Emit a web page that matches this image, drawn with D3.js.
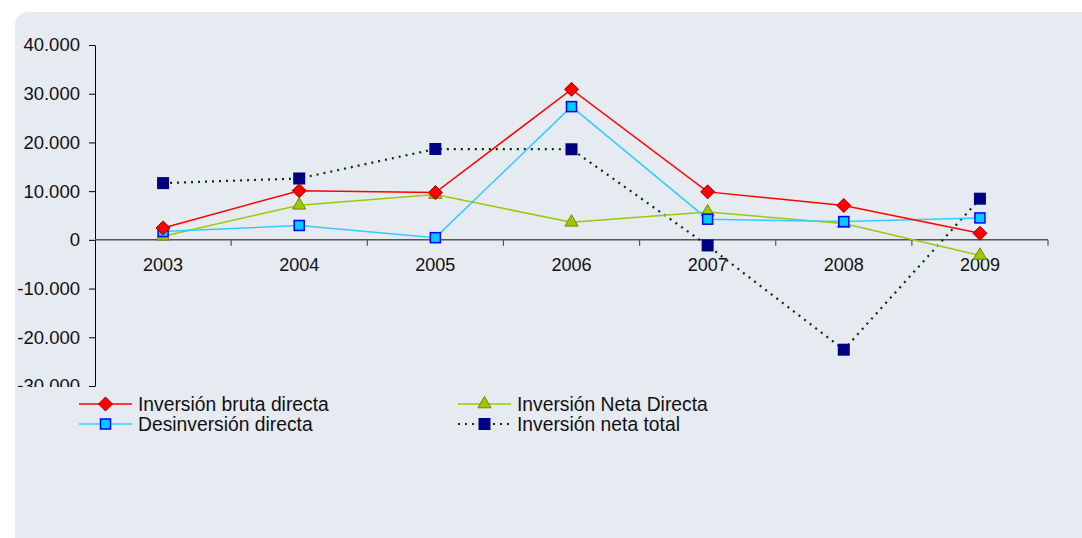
<!DOCTYPE html>
<html><head><meta charset="utf-8">
<script src="https://cdn.jsdelivr.net/npm/d3@7"></script>
<style>body{margin:0;background:#fff}svg{display:block}text{font-family:"Liberation Sans",Arial,sans-serif;fill:#111}</style>
</head><body><svg id="c" width="1082" height="538"></svg>
<script>
const years = ["2003","2004","2005","2006","2007","2008","2009"];
const brutaDirecta = [2450, 10100, 9700, 30900, 9850, 7050, 1350];
const desinversion = [1700, 2950, 450, 27350, 4250, 3750, 4500];
const netaDirecta = [750, 7100, 9300, 3600, 5700, 3350, -3200];
const netaTotal = [11650, 12600, 18650, 18600, -1150, -22550, 8450];
const yTicks = [40000, 30000, 20000, 10000, 0, -10000, -20000, -30000];
const seriesNames = ["Inversión bruta directa","Desinversión directa","Inversión Neta Directa","Inversión neta total"];

const svg = d3.select("#c");
const bg = "#E6EAF1";
svg.append("path").attr("d","M15,538 L15,26 Q15,12 29,12 L1082,12 L1082,538 Z").attr("fill",bg);

const x = d3.scaleBand().domain(years).range([95,1048]);
const y = d3.scaleLinear().domain([-30000,40000]).range([386,45]);
const fmt = v => (v<0?"-":"") + d3.format(",")(Math.abs(v)).replace(/,/g,".");

const gy = svg.append("g").attr("transform","translate(95,0)")
  .call(d3.axisLeft(y).tickValues(yTicks).tickSize(6).tickSizeOuter(0).tickFormat(fmt).tickPadding(9));
gy.select(".domain").attr("stroke","#000");
gy.selectAll(".tick line").attr("stroke","#000");
gy.selectAll(".tick text").attr("font-size","18.5px").style("font-family","'Liberation Sans',Arial,sans-serif").attr("fill","#111");

const gx = svg.append("g").attr("transform",`translate(0,${y(0)})`)
  .call(d3.axisBottom(x).tickSize(0).tickPadding(0));
gx.select(".domain").remove();
gx.selectAll(".tick text").attr("font-size","18px").attr("dy","31").style("font-family","'Liberation Sans',Arial,sans-serif").attr("fill","#111");
svg.append("line").attr("x1",95).attr("x2",1048).attr("y1",y(0)).attr("y2",y(0)).attr("stroke","#555").attr("stroke-width",1.5);
const bounds = years.map(d=>x(d)).concat([1048]).slice(1);
svg.selectAll(".xt").data(bounds).join("line").attr("x1",d=>d).attr("x2",d=>d)
  .attr("y1",y(0)).attr("y2",y(0)+6).attr("stroke","#555").attr("stroke-width",1.2);

const cx = d => x(d) + x.bandwidth()/2;
const line = d3.line().x((d,i)=>cx(years[i])).y(d=>y(d));

const triangle = d3.symbol().type(d3.symbolTriangle).size(75);

function drawSeries(vals, stroke, dash, marker){
  svg.append("path").attr("d",line(vals)).attr("fill","none").attr("stroke",stroke)
    .attr("stroke-width",dash?2.2:1.5).attr("stroke-dasharray",dash||null);
  const g = svg.append("g");
  vals.forEach((v,i)=>marker(g, cx(years[i]), y(v)));
}
const mDiamond=(g,px,py)=>g.append("path").attr("d","M0,-7L7,0L0,7L-7,0Z").attr("transform",`translate(${px},${py})`).attr("fill","#FF0000").attr("stroke","#990000").attr("stroke-width",1);
const mCyan=(g,px,py)=>g.append("rect").attr("x",px-5).attr("y",py-5).attr("width",10).attr("height",10).attr("fill","#00CCFF").attr("stroke","#0000FF").attr("stroke-width",1.5);
const mTri=(g,px,py)=>g.append("path").attr("d",triangle()).attr("transform",`translate(${px},${py})`).attr("fill","#99CC00").attr("stroke","#808000").attr("stroke-width",1);
const mNavy=(g,px,py)=>g.append("rect").attr("x",px-6).attr("y",py-6).attr("width",12).attr("height",12).attr("fill","#000080");

drawSeries(netaTotal, "#003300", "2,5", mNavy);
drawSeries(netaDirecta, "#99CC00", null, mTri);
drawSeries(desinversion, "#33CCFF", null, mCyan);
drawSeries(brutaDirecta, "#FF0000", null, mDiamond);

// legend
svg.append("rect").attr("x",15).attr("y",387).attr("width",1067).attr("height",50).attr("fill",bg);
const leg = [
  {name:seriesNames[0], c:"#FF0000", dash:null, m:mDiamond, lx:79, ly:404},
  {name:seriesNames[1], c:"#33CCFF", dash:null, m:mCyan, lx:79, ly:424},
  {name:seriesNames[2], c:"#99CC00", dash:null, m:mTri, lx:458, ly:404},
  {name:seriesNames[3], c:"#003300", dash:"2,5", m:mNavy, lx:458, ly:424}
];
leg.forEach(l=>{
  svg.append("line").attr("x1",l.lx).attr("x2",l.lx+53).attr("y1",l.ly).attr("y2",l.ly)
    .attr("stroke",l.c).attr("stroke-width",l.dash?2.2:1.5).attr("stroke-dasharray",l.dash);
  l.m(svg, l.lx+26.5, l.ly);
  svg.append("text").attr("x",l.lx+59).attr("y",l.ly).attr("dy","0.36em").attr("font-size","19.3px").text(l.name);
});
</script></body></html>
